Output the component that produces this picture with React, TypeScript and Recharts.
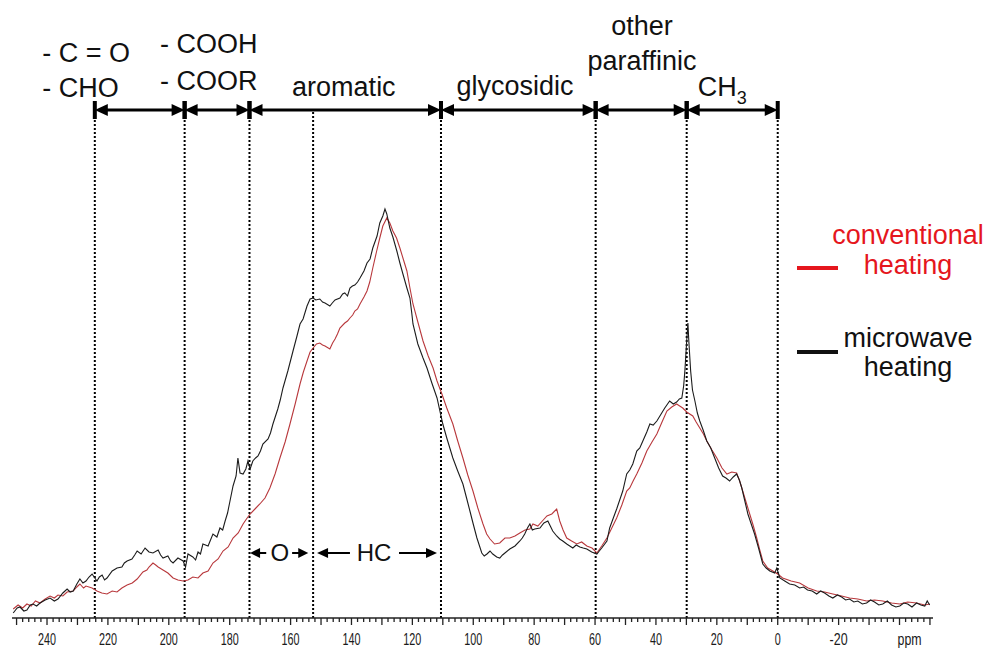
import React from 'react';
import { LineChart, Line, XAxis, YAxis, ReferenceLine, ReferenceDot, Legend } from 'recharts';

const FONT = '"Liberation Sans", Arial, Helvetica, sans-serif';

// [ppm, signal] (signal in arbitrary units)
const MICROWAVE: [number, number][] = [
  [251.1, 5], [249.8, 10], [248.9, 11], [247.6, 7], [246.6, 8], [245.5, 13], [244.6, 14], [243.4, 12],
  [242.3, 15], [240.6, 18], [239.0, 20], [237.6, 17], [236.4, 19], [234.8, 25], [233.4, 29], [232.4, 26],
  [231.4, 27], [230.2, 34], [229.2, 39], [228.2, 35], [227.2, 37], [226.2, 41], [225.2, 44], [224.3, 40],
  [223.6, 37], [222.8, 41], [221.9, 43], [221.1, 38], [220.3, 40], [218.6, 47], [217.0, 50], [215.4, 51],
  [214.6, 55], [213.7, 57], [212.1, 59], [211.2, 63], [210.4, 67], [209.1, 64], [207.8, 70], [206.5, 66],
  [205.2, 65], [203.5, 68], [202.7, 63], [201.9, 60], [200.3, 62], [199.4, 57], [198.6, 55], [197.0, 60],
  [195.3, 57], [194.5, 51], [193.7, 64], [192.1, 61], [191.2, 58], [190.4, 66], [189.6, 64], [188.8, 74],
  [187.1, 72], [186.3, 78], [185.5, 84], [184.2, 81], [183.2, 90], [182.3, 88], [181.5, 97], [180.7, 105],
  [179.9, 117], [178.9, 132], [177.9, 142], [177.3, 160], [176.6, 145], [175.6, 144], [174.7, 149], [174.0, 157],
  [173.3, 149], [172.4, 157], [171.5, 160], [170.7, 162], [169.9, 167], [169.1, 174], [167.4, 179], [166.6, 185],
  [165.8, 194], [164.2, 209], [163.4, 218], [162.5, 230], [160.9, 247], [159.2, 267], [157.9, 282], [156.9, 294],
  [155.9, 299], [154.6, 312], [153.6, 319], [152.6, 320], [151.7, 318], [150.4, 319], [149.5, 316], [148.7, 315],
  [147.1, 312], [146.3, 315], [145.4, 318], [143.8, 320], [142.9, 324], [142.2, 325], [141.3, 322], [140.5, 330],
  [139.7, 332], [138.9, 333], [138.0, 336], [137.2, 340], [135.9, 347], [134.9, 355], [133.9, 359], [133.0, 370],
  [131.6, 382], [130.7, 395], [129.7, 402], [129.0, 409], [128.4, 404], [127.4, 390], [126.4, 381], [125.1, 367],
  [124.1, 355], [123.1, 344], [121.8, 330], [120.8, 320], [120.2, 305], [119.8, 294], [118.2, 274], [116.5, 260],
  [115.2, 250], [113.6, 235], [111.9, 220], [110.0, 194], [108.7, 180], [106.7, 160], [105.1, 147], [103.4, 134],
  [102.2, 120], [101.1, 107], [100.1, 95], [98.8, 80], [97.2, 65], [96.4, 62], [95.5, 64], [94.5, 67],
  [93.6, 64], [92.3, 61], [91.3, 60], [90.4, 63], [89.6, 65], [88.0, 69], [86.3, 72], [84.7, 77],
  [83.9, 80], [83.1, 84], [82.2, 90], [81.4, 94], [80.6, 88], [79.8, 89], [78.1, 90], [76.8, 95],
  [75.5, 97], [74.7, 92], [73.9, 87], [72.6, 82], [71.6, 79], [70.6, 77], [69.3, 74], [68.3, 72],
  [67.3, 70], [66.2, 73], [65.0, 71], [63.9, 70], [62.7, 69], [61.1, 66], [59.4, 64], [58.6, 67],
  [57.8, 70], [56.1, 77], [55.2, 90], [54.0, 100], [52.9, 109], [50.9, 127], [49.6, 144], [48.6, 148],
  [47.6, 154], [46.3, 167], [45.3, 170], [44.3, 177], [43.0, 186], [42.0, 194], [40.9, 193], [39.7, 197],
  [38.3, 204], [37.1, 210], [35.5, 217], [34.3, 214], [33.2, 216], [32.3, 219], [31.5, 220], [30.9, 232],
  [30.5, 247], [29.9, 277], [29.5, 295], [29.2, 277], [28.6, 247], [28.0, 228], [27.2, 217], [26.4, 205],
  [25.6, 197], [24.5, 188], [23.3, 177], [22.0, 170], [20.7, 160], [19.4, 150], [18.1, 142], [17.0, 140],
  [15.8, 137], [14.6, 141], [13.5, 144], [12.6, 138], [11.8, 130], [10.8, 117], [9.8, 104], [8.7, 94],
  [7.6, 84], [6.3, 70], [4.9, 54], [3.8, 50], [2.6, 47], [1.0, 45], [0.3, 50], [-0.7, 40],
  [-2.3, 37], [-3.9, 34], [-5.6, 33], [-7.2, 30], [-8.5, 31], [-9.8, 28], [-11.3, 27], [-12.8, 24],
  [-14.1, 27], [-15.4, 25], [-16.8, 22], [-18.1, 20], [-19.6, 23], [-21.0, 21], [-22.3, 18], [-23.6, 19],
  [-25.0, 16], [-26.3, 17], [-27.8, 14], [-29.2, 15], [-30.5, 18], [-31.8, 16], [-33.2, 13], [-34.5, 14],
  [-36.0, 17], [-37.4, 13], [-38.8, 11], [-40.1, 12], [-41.4, 15], [-42.7, 14], [-44.1, 11], [-45.6, 15],
  [-47.0, 13], [-48.3, 12], [-49.1, 17], [-49.9, 13],
];

const CONVENTIONAL: [number, number][] = [
  [251.1, 9], [249.5, 13], [248.0, 10], [246.6, 14], [245.2, 12], [243.8, 17], [242.3, 15], [240.6, 19],
  [239.0, 22], [237.6, 20], [236.4, 23], [234.8, 22], [233.4, 26], [231.4, 27], [230.2, 31], [229.2, 34],
  [228.0, 30], [227.2, 32], [225.2, 30], [223.6, 27], [222.0, 25], [220.3, 24], [218.6, 27], [217.0, 26],
  [215.4, 30], [213.7, 33], [212.0, 35], [210.4, 39], [208.5, 46], [207.2, 48], [206.5, 51], [205.2, 55],
  [204.3, 53], [203.5, 51], [201.9, 48], [200.3, 45], [198.6, 40], [197.0, 38], [195.3, 37], [193.7, 38],
  [192.1, 41], [190.4, 40], [188.8, 45], [187.1, 47], [185.5, 55], [183.8, 59], [182.2, 67], [180.5, 71],
  [178.9, 80], [177.2, 85], [175.6, 94], [174.5, 99], [173.3, 104], [171.7, 109], [170.1, 114], [168.4, 120],
  [166.8, 130], [165.1, 144], [163.5, 160], [161.8, 176], [160.2, 194], [158.5, 214], [156.9, 234], [155.8, 246],
  [154.6, 257], [153.6, 266], [152.6, 270], [151.5, 274], [150.4, 275], [149.5, 273], [148.7, 272], [147.1, 269],
  [146.2, 275], [145.4, 279], [144.6, 284], [143.8, 290], [142.2, 295], [141.3, 297], [140.5, 300], [139.6, 303],
  [138.9, 307], [138.0, 309], [137.2, 314], [135.9, 321], [134.9, 327], [134.0, 336], [133.0, 350], [131.8, 366],
  [130.7, 380], [129.7, 392], [128.4, 400], [127.4, 395], [126.4, 387], [125.2, 380], [124.1, 370], [122.9, 358],
  [121.8, 347], [120.8, 330], [119.8, 314], [118.2, 296], [116.5, 277], [114.8, 262], [113.2, 250], [111.9, 237],
  [110.3, 224], [108.7, 210], [106.7, 194], [105.1, 177], [103.4, 160], [101.8, 143], [100.1, 127], [98.5, 110],
  [96.8, 94], [95.6, 84], [94.5, 79], [93.0, 74], [91.3, 75], [89.6, 80], [88.0, 80], [86.3, 82],
  [84.7, 85], [83.0, 88], [81.4, 89], [80.4, 94], [78.8, 92], [77.3, 97], [75.8, 102], [74.2, 104],
  [72.6, 109], [71.6, 97], [70.5, 88], [69.3, 80], [67.7, 77], [66.0, 74], [64.4, 76], [62.7, 72],
  [61.0, 70], [59.4, 65], [57.8, 72], [56.1, 80], [54.5, 90], [52.9, 100], [51.2, 113], [49.6, 127],
  [48.6, 130], [47.5, 137], [46.3, 144], [44.6, 155], [43.0, 167], [41.3, 176], [39.7, 184], [38.0, 196],
  [36.4, 207], [34.8, 211], [33.2, 214], [32.2, 212], [31.2, 210], [29.9, 206], [27.9, 202], [26.8, 196],
  [25.6, 190], [24.4, 184], [23.3, 177], [21.6, 168], [20.0, 160], [18.3, 150], [16.7, 144], [15.1, 146],
  [13.5, 145], [12.5, 137], [11.5, 127], [10.3, 115], [9.2, 104], [8.0, 92], [6.9, 80], [5.9, 68],
  [4.9, 57], [3.3, 50], [1.6, 47], [0.0, 44], [-1.6, 40], [-4.4, 37], [-7.2, 35], [-10.0, 30],
  [-12.8, 27], [-15.4, 26], [-18.1, 24], [-21.0, 22], [-23.6, 20], [-26.3, 19], [-29.2, 17], [-31.8, 18],
  [-34.5, 17], [-37.4, 15], [-40.1, 14], [-42.7, 16], [-45.6, 15], [-48.3, 13], [-49.9, 14],
];

const TICK_LABELS = [240, 220, 200, 180, 160, 140, 120, 100, 80, 60, 40, 20, 0, -20];
const MINOR_TICKS = Array.from({ length: 151 }, (_, i) => -50 + 2 * i);
const UNIT_TICK = -43.3;

// chemical shift region boundaries (ppm)
const REGION_BOUNDS = [224.3, 194.8, 173.5, 152.6, 110.6, 59.8, 29.9, 0];
const REGION_SPANS: [number, number][] = [
  [224.3, 194.8], [194.8, 173.5], [173.5, 110.6], [110.6, 59.8], [59.8, 29.9], [29.9, 0],
];

const REGION_TEXT = [
  { text: '- C = O', ppm: 241.6, y: 556, anchor: 'start' },
  { text: '- CHO', ppm: 241.6, y: 521, anchor: 'start' },
  { text: '- COOH', ppm: 202.9, y: 565, anchor: 'start' },
  { text: '- COOR', ppm: 202.9, y: 528, anchor: 'start' },
  { text: 'aromatic', ppm: 142.5, y: 522, anchor: 'middle' },
  { text: 'glycosidic', ppm: 86.3, y: 523, anchor: 'middle' },
  { text: 'other', ppm: 44.6, y: 583, anchor: 'middle' },
  { text: 'paraffinic', ppm: 44.6, y: 548, anchor: 'middle' },
];

const SERIES = [
  { name: 'conventional heating', data: CONVENTIONAL, color: '#b8383c', legend: '#e5161d' },
  { name: 'microwave heating', data: MICROWAVE, color: '#1c1c1c', legend: '#111111' },
];

const toPoints = (rows: [number, number][]) => rows.map(([ppm, v]) => ({ ppm, v }));

const arrowShape = (opts: { start: boolean; end: boolean; bars: boolean; w: number; len: number; half: number }) =>
  (props: any) => {
    const { x1, y1, x2 } = props;
    const a = Math.min(x1, x2);
    const b = Math.max(x1, x2);
    const y = y1;
    const s = opts.start ? a + opts.len - 1 : a;
    const e = opts.end ? b - opts.len + 1 : b;
    return (
      <g>
        <line x1={s} y1={y} x2={e} y2={y} stroke="#000" strokeWidth={opts.w} />
        {opts.start && (
          <polygon points={`${a},${y} ${a + opts.len},${y - opts.half} ${a + opts.len},${y + opts.half}`} fill="#000" />
        )}
        {opts.end && (
          <polygon points={`${b},${y} ${b - opts.len},${y - opts.half} ${b - opts.len},${y + opts.half}`} fill="#000" />
        )}
        {opts.bars && <rect x={a - 2} y={y - 9} width={4} height={18} fill="#000" />}
        {opts.bars && <rect x={b - 2} y={y - 9} width={4} height={18} fill="#000" />}
      </g>
    );
  };

const textShape = (content: React.ReactNode, anchor: string, size: number) => (props: any) => (
  <text x={props.cx} y={props.cy} textAnchor={anchor} fontSize={size} fontFamily={FONT} fill="#111">
    {content}
  </text>
);

const renderTick = (props: any) => {
  const { x, y, payload } = props;
  const v = payload.value;
  if (v === UNIT_TICK) {
    return (
      <text x={x} y={y + 27} textAnchor="middle" fontSize={17} fontFamily={FONT} fill="#1a1a1a"
        textLength={24} lengthAdjust="spacingAndGlyphs">ppm</text>
    );
  }
  const len = v % 10 === 0 ? 7 : 4;
  const label = TICK_LABELS.includes(v) ? String(v) : null;
  return (
    <g>
      <line x1={x} y1={y} x2={x} y2={y + len} stroke="#222" strokeWidth={1.3} />
      {label && (
        <text x={x} y={y + 27} textAnchor="middle" fontSize={17} fontFamily={FONT} fill="#1a1a1a"
          textLength={label.length * 6} lengthAdjust="spacingAndGlyphs">{label}</text>
      )}
    </g>
  );
};

const ITEM_TOP = [0, 103.5];
const SAMPLE_TOP = [46, 26.5];
const LINE_H = [30, 29];

const renderLegend = (props: any) => {
  const payload: any[] = props.payload || [];
  return (
    <div style={{ position: 'relative', width: 200, height: 170, fontFamily: FONT }}>
      {SERIES.map((s, i) => {
        const entry = payload.find((p) => p.value === s.name);
        const words = (entry ? entry.value : s.name).split(' ');
        return (
          <div key={s.name} style={{ position: 'absolute', left: 0, top: ITEM_TOP[i], width: 200, height: 62 }}>
            <div style={{ position: 'absolute', left: 7, top: SAMPLE_TOP[i], width: 41, height: 4, background: s.legend }} />
            <div style={{ position: 'absolute', left: 38, width: 160, textAlign: 'center', fontSize: 27,
              lineHeight: `${LINE_H[i]}px`, color: s.legend }}>
              {words.map((w) => <div key={w}>{w}</div>)}
            </div>
          </div>
        );
      })}
    </div>
  );
};

export default function App() {
  return (
    <div style={{ position: 'absolute', left: 0, top: 0, background: '#fff' }}>
      <LineChart width={990} height={651} margin={{ top: 0, right: 57, bottom: 0, left: 12 }}>
        <XAxis type="number" dataKey="ppm" domain={[-51, 251.5]} reversed allowDataOverflow
          ticks={[...MINOR_TICKS, UNIT_TICK]} interval={0} tick={renderTick} tickLine={false}
          tickSize={0} tickMargin={0} height={33} axisLine={{ stroke: '#222', strokeWidth: 1.6 }} />
        <YAxis type="number" domain={[0, 618]} hide allowDataOverflow />

        {REGION_BOUNDS.map((b) => (
          <ReferenceLine key={`d${b}`} segment={[{ x: b, y: 0 }, { x: b, y: 507 }]}
            stroke="#000" strokeWidth={2} strokeDasharray="2 2" />
        ))}
        {REGION_SPANS.map(([a, b]) => (
          <ReferenceLine key={`s${a}`} segment={[{ x: a, y: 508 }, { x: b, y: 508 }]}
            shape={arrowShape({ start: true, end: true, bars: true, w: 3, len: 13, half: 6 })} />
        ))}

        <ReferenceLine segment={[{ x: 173.3, y: 65 }, { x: 168.0, y: 65 }]}
          shape={arrowShape({ start: true, end: false, bars: false, w: 2, len: 10, half: 5 })} />
        <ReferenceLine segment={[{ x: 159.5, y: 65 }, { x: 154.2, y: 65 }]}
          shape={arrowShape({ start: false, end: true, bars: false, w: 2, len: 10, half: 5 })} />
        <ReferenceLine segment={[{ x: 151.3, y: 65 }, { x: 140.5, y: 65 }]}
          shape={arrowShape({ start: true, end: false, bars: false, w: 2, len: 11, half: 5 })} />
        <ReferenceLine segment={[{ x: 124.4, y: 65 }, { x: 111.9, y: 65 }]}
          shape={arrowShape({ start: false, end: true, bars: false, w: 2, len: 11, half: 5 })} />
        <ReferenceDot x={163.5} y={57} ifOverflow="visible" shape={textShape('O', 'middle', 24)} />
        <ReferenceDot x={132.6} y={57} ifOverflow="visible" shape={textShape('HC', 'middle', 24)} />

        {REGION_TEXT.map((t) => (
          <ReferenceDot key={t.text} x={t.ppm} y={t.y} ifOverflow="visible" shape={textShape(t.text, t.anchor, 27)} />
        ))}
        <ReferenceDot x={26.3} y={522} ifOverflow="visible"
          shape={textShape(<>CH<tspan fontSize={18} dy={8}>3</tspan></>, 'start', 27)} />

        {SERIES.map((s) => (
          <Line key={s.name} name={s.name} data={toPoints(s.data)} dataKey="v" type="linear"
            stroke={s.color} strokeWidth={1.1} dot={false} activeDot={false} isAnimationActive={false} />
        ))}

        <Legend layout="vertical" align="center" verticalAlign="middle" content={renderLegend}
          wrapperStyle={{ left: 790, top: 220, width: 200 }} />
      </LineChart>
    </div>
  );
}
